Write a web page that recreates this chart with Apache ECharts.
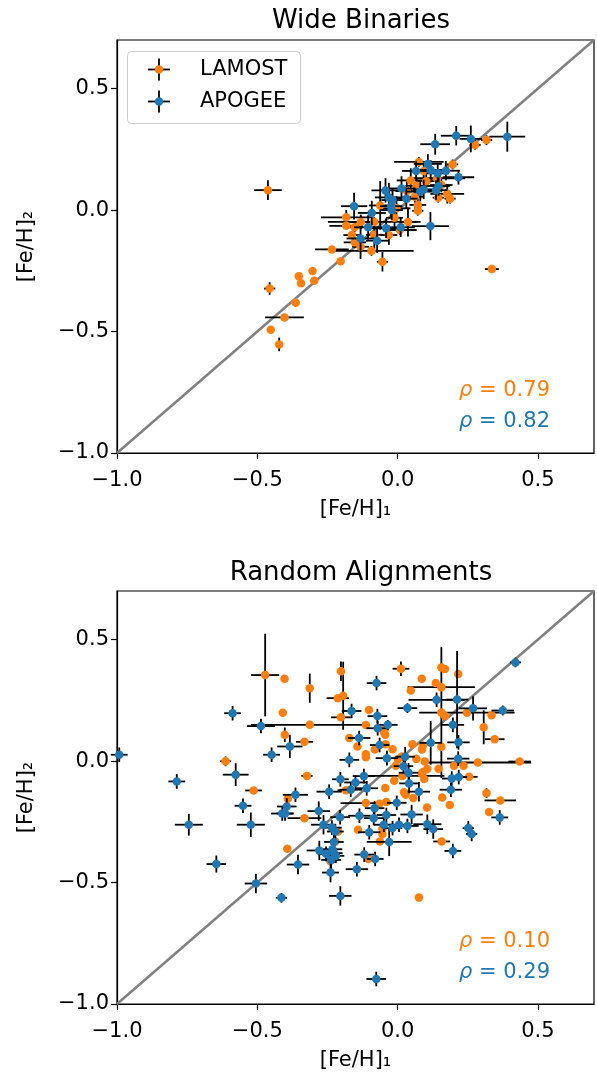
<!DOCTYPE html>
<html>
<head>
<meta charset="utf-8">
<script src="https://cdn.jsdelivr.net/npm/echarts@6/dist/echarts.min.js"></script>
<style>
  html, body { margin: 0; padding: 0; background: #fff; }
  #chart { width: 597px; height: 1072px; }
</style>
</head>
<body>
<div id="chart"></div>
<script>
// rows: [Fe/H]_1, [Fe/H]_2, err_1, err_2
const wideLamost = [
  [-0.462, 0.082, 0.049, 0.041], [-0.456, -0.323, 0.02, 0.026], [-0.403, -0.442, 0.069, 0.008],
  [-0.452, -0.493, 0.008, 0.008], [-0.422, -0.553, 0.008, 0.028], [-0.363, -0.382, 0.008, 0.008],
  [-0.352, -0.272, 0.008, 0.008], [-0.344, -0.301, 0.008, 0.008], [-0.303, -0.251, 0.008, 0.008],
  [-0.297, -0.291, 0.008, 0.008], [-0.234, -0.162, 0.06, 0.01], [-0.203, -0.211, 0.01, 0.01],
  [-0.183, -0.030, 0.09, 0.03], [-0.183, -0.065, 0.06, 0.01], [-0.163, -0.103, 0.03, 0.01],
  [-0.131, -0.049, 0.04, 0.03], [-0.153, -0.071, 0.03, 0.02], [-0.083, -0.049, 0.165, 0.02],
  [-0.083, -0.102, 0.03, 0.06], [-0.031, -0.103, 0.03, 0.04], [0.008, -0.082, 0.06, 0.02],
  [-0.152, -0.133, 0.04, 0.02], [-0.132, -0.151, 0.03, 0.05], [-0.093, -0.168, 0.15, 0.02],
  [-0.054, -0.213, 0.02, 0.04], [-0.062, 0.019, 0.04, 0.1], [-0.004, 0.007, 0.05, 0.05],
  [-0.011, -0.032, 0.03, 0.04], [0.037, -0.049, 0.03, 0.06], [0.033, 0.078, 0.04, 0.04],
  [0.062, 0.055, 0.03, 0.05], [0.072, 0.021, 0.03, 0.03], [0.072, -0.003, 0.02, 0.02],
  [0.068, 0.100, 0.04, 0.03], [0.047, 0.122, 0.05, 0.05], [0.102, 0.119, 0.03, 0.03],
  [0.093, 0.161, 0.03, 0.03], [0.076, 0.198, 0.088, 0.02], [0.141, 0.131, 0.1, 0.03],
  [0.156, 0.103, 0.04, 0.03], [0.145, 0.051, 0.02, 0.02], [0.177, 0.067, 0.06, 0.04],
  [0.187, 0.047, 0.02, 0.02], [0.196, 0.188, 0.02, 0.02], [0.276, 0.268, 0.02, 0.02],
  [0.317, 0.288, 0.02, 0.02], [0.336, -0.243, 0.025, 0.005]
];
const wideApogee = [
  [0.209, 0.306, 0.055, 0.04], [0.261, 0.293, 0.04, 0.055], [0.391, 0.302, 0.064, 0.062],
  [0.134, 0.271, 0.053, 0.043], [0.108, 0.190, 0.05, 0.04], [0.066, 0.161, 0.05, 0.04],
  [0.118, 0.165, 0.04, 0.04], [0.143, 0.151, 0.04, 0.04], [0.172, 0.162, 0.05, 0.04],
  [0.217, 0.135, 0.056, 0.03], [0.014, 0.089, 0.05, 0.05], [-0.043, 0.081, 0.05, 0.05],
  [0.081, 0.076, 0.05, 0.04], [0.093, 0.085, 0.04, 0.04], [0.137, 0.082, 0.04, 0.04],
  [0.146, 0.099, 0.04, 0.04], [-0.031, 0.052, 0.05, 0.06], [-0.018, 0.041, 0.04, 0.05],
  [0.031, 0.047, 0.04, 0.04], [-0.023, 0.016, 0.04, 0.05], [-0.021, 0.000, 0.04, 0.04],
  [-0.155, 0.016, 0.047, 0.055], [-0.092, -0.012, 0.05, 0.05], [-0.105, -0.071, 0.05, 0.05],
  [-0.041, -0.075, 0.05, 0.04], [0.011, -0.071, 0.05, 0.04], [0.117, -0.066, 0.066, 0.058],
  [-0.132, -0.117, 0.05, 0.05], [-0.073, -0.126, 0.04, 0.05]
];
const randomLamost = [
  [-0.472, 0.354, 0.05, 0.17], [-0.403, 0.339, 0.01, 0.01], [-0.313, 0.300, 0.01, 0.06],
  [-0.409, 0.199, 0.01, 0.01], [-0.313, 0.149, 0.21, 0.01], [-0.202, 0.370, 0.01, 0.04],
  [-0.194, 0.269, 0.01, 0.14], [-0.213, 0.259, 0.04, 0.01], [-0.202, 0.180, 0.035, 0.01],
  [-0.402, 0.108, 0.01, 0.03], [-0.332, 0.079, 0.03, 0.01], [-0.613, -0.001, 0.02, 0.02],
  [-0.323, -0.061, 0.02, 0.01], [-0.513, -0.121, 0.03, 0.01], [-0.184, -0.120, 0.03, 0.01],
  [0.012, 0.380, 0.03, 0.03], [0.156, 0.385, 0.01, 0.01], [0.169, 0.379, 0.01, 0.01],
  [0.216, 0.358, 0.01, 0.01], [0.086, 0.339, 0.01, 0.01], [0.047, 0.290, 0.01, 0.01],
  [0.136, 0.321, 0.01, 0.01], [0.156, 0.304, 0.12, 0.01], [-0.102, 0.210, 0.01, 0.01],
  [0.247, 0.199, 0.17, 0.01], [0.335, 0.189, 0.01, 0.01], [0.156, 0.200, 0.01, 0.27],
  [0.169, 0.185, 0.01, 0.01], [0.307, 0.139, 0.01, 0.07], [-0.113, 0.148, 0.01, 0.01],
  [-0.045, 0.133, 0.01, 0.01], [-0.044, 0.108, 0.01, 0.01], [-0.048, 0.118, 0.01, 0.01],
  [-0.172, 0.095, 0.01, 0.01], [0.346, 0.090, 0.035, 0.01], [0.053, 0.069, 0.01, 0.01],
  [0.156, 0.059, 0.01, 0.01], [0.090, 0.064, 0.01, 0.01], [-0.143, 0.060, 0.01, 0.01],
  [-0.043, 0.069, 0.01, 0.01], [-0.081, 0.048, 0.01, 0.01], [-0.018, 0.049, 0.01, 0.01],
  [0.087, 0.048, 0.01, 0.01], [-0.113, 0.028, 0.01, 0.01], [-0.113, 0.016, 0.01, 0.01],
  [0.002, 0.007, 0.01, 0.01], [0.015, 0.019, 0.01, 0.01], [0.067, 0.009, 0.01, 0.01],
  [0.097, -0.002, 0.01, 0.01], [0.286, -0.006, 0.19, 0.01], [0.435, -0.002, 0.04, 0.01],
  [0.201, -0.019, 0.01, 0.01], [0.235, -0.019, 0.01, 0.01], [-0.006, -0.019, 0.01, 0.01],
  [0.090, -0.045, 0.01, 0.01], [0.086, -0.052, 0.01, 0.01], [0.106, -0.033, 0.01, 0.01],
  [0.146, -0.032, 0.01, 0.01], [0.255, -0.065, 0.03, 0.01], [-0.012, -0.081, 0.01, 0.01],
  [0.017, -0.061, 0.15, 0.01], [0.095, -0.074, 0.01, 0.01], [-0.044, -0.111, 0.01, 0.01],
  [0.317, -0.132, 0.01, 0.02], [0.366, -0.162, 0.056, 0.01], [0.023, -0.128, 0.01, 0.01],
  [0.029, -0.139, 0.01, 0.01], [0.326, -0.210, 0.01, 0.01], [0.159, -0.150, 0.01, 0.01],
  [0.186, -0.181, 0.01, 0.01], [0.105, -0.191, 0.01, 0.01], [0.056, -0.152, 0.01, 0.01],
  [-0.040, -0.169, 0.01, 0.01], [-0.065, -0.176, 0.01, 0.01], [-0.113, -0.173, 0.09, 0.01],
  [-0.332, -0.235, 0.06, 0.01], [-0.212, -0.290, 0.01, 0.01], [-0.141, -0.283, 0.01, 0.01],
  [-0.054, -0.300, 0.01, 0.01], [-0.054, -0.280, 0.01, 0.01], [0.157, -0.331, 0.03, 0.01],
  [-0.063, -0.331, 0.01, 0.01], [-0.240, -0.411, 0.01, 0.01], [-0.104, -0.403, 0.01, 0.01],
  [0.076, -0.562, 0.01, 0.01], [-0.391, -0.155, 0.01, 0.01], [-0.393, -0.361, 0.01, 0.01],
  [-0.222, -0.331, 0.01, 0.01]
];
const randomApogee = [
  [-0.992, 0.026, 0.03, 0.03], [-0.588, 0.197, 0.03, 0.03], [-0.487, 0.144, 0.05, 0.03],
  [-0.384, 0.060, 0.045, 0.048], [-0.449, 0.026, 0.03, 0.03], [-0.577, -0.056, 0.046, 0.047],
  [-0.787, -0.084, 0.03, 0.03], [-0.204, -0.075, 0.03, 0.03], [-0.364, -0.139, 0.045, 0.03],
  [-0.244, -0.126, 0.045, 0.03], [-0.172, 0.005, 0.035, 0.03], [0.420, 0.406, 0.02, 0.02],
  [-0.075, 0.321, 0.035, 0.03], [0.139, 0.252, 0.1, 0.03], [0.212, 0.253, 0.04, 0.2],
  [0.035, 0.218, 0.035, 0.02], [-0.164, 0.206, 0.035, 0.03], [0.269, 0.217, 0.05, 0.05],
  [0.375, 0.208, 0.04, 0.02], [-0.072, 0.185, 0.035, 0.03], [0.197, 0.149, 0.04, 0.03],
  [-0.035, 0.149, 0.035, 0.02], [-0.071, 0.135, 0.04, 0.03], [-0.137, 0.095, 0.04, 0.03],
  [0.118, 0.075, 0.04, 0.09], [0.217, 0.077, 0.04, 0.03], [-0.064, 0.066, 0.035, 0.03],
  [-0.038, 0.012, 0.04, 0.03], [0.027, 0.018, 0.035, 0.04], [0.216, 0.010, 0.04, 0.03],
  [0.021, -0.021, 0.035, 0.03], [0.039, -0.048, 0.035, 0.04], [0.193, -0.072, 0.035, 0.03],
  [0.218, -0.066, 0.03, 0.03], [-0.120, -0.062, 0.04, 0.03], [-0.150, -0.088, 0.04, 0.03],
  [0.041, -0.092, 0.035, 0.04], [-0.167, -0.118, 0.04, 0.03], [-0.110, -0.112, 0.04, 0.03],
  [0.076, -0.126, 0.04, 0.04], [0.190, -0.118, 0.04, 0.03], [0.364, -0.232, 0.03, 0.03],
  [-0.003, -0.172, 0.035, 0.03], [-0.082, -0.194, 0.035, 0.03], [0.050, -0.220, 0.04, 0.04],
  [-0.040, -0.222, 0.035, 0.03], [-0.085, -0.235, 0.035, 0.03], [-0.136, -0.225, 0.04, 0.03],
  [-0.205, -0.231, 0.035, 0.03], [-0.281, -0.206, 0.04, 0.04], [-0.264, -0.262, 0.045, 0.04],
  [-0.234, -0.274, 0.035, 0.03], [-0.222, -0.290, 0.03, 0.03], [-0.101, -0.293, 0.04, 0.03],
  [-0.049, -0.262, 0.035, 0.03], [-0.018, -0.276, 0.035, 0.03], [0.005, -0.262, 0.035, 0.03],
  [0.035, -0.267, 0.04, 0.03], [0.106, -0.260, 0.05, 0.04], [0.127, -0.280, 0.035, 0.04],
  [0.252, -0.276, 0.02, 0.03], [0.264, -0.300, 0.02, 0.03], [0.197, -0.370, 0.03, 0.03],
  [-0.030, -0.333, 0.08, 0.058], [-0.227, -0.333, 0.035, 0.03], [-0.279, -0.368, 0.045, 0.04],
  [-0.232, -0.363, 0.035, 0.04], [-0.226, -0.379, 0.03, 0.04], [-0.220, -0.390, 0.03, 0.03],
  [-0.255, -0.382, 0.03, 0.03], [-0.237, -0.407, 0.035, 0.04], [-0.119, -0.385, 0.035, 0.03],
  [-0.080, -0.403, 0.03, 0.03], [-0.239, -0.459, 0.03, 0.04], [-0.145, -0.445, 0.04, 0.03],
  [-0.204, -0.555, 0.04, 0.04], [-0.076, -0.897, 0.035, 0.03], [-0.551, -0.184, 0.03, 0.03],
  [-0.395, -0.187, 0.035, 0.035], [-0.411, -0.216, 0.04, 0.03], [-0.401, -0.216, 0.03, 0.03],
  [-0.744, -0.262, 0.05, 0.045], [-0.523, -0.262, 0.05, 0.05], [-0.646, -0.424, 0.035, 0.035],
  [-0.505, -0.504, 0.04, 0.04], [-0.355, -0.426, 0.04, 0.04], [-0.414, -0.563, 0.02, 0.02]
];
const tickValues = [-1, -0.5, 0, 0.5];
const axisRange = [-1, 0.7];
const panelTitles = ['Wide Binaries', 'Random Alignments'];
const rhoWide = [0.79, 0.82];     // LAMOST, APOGEE
const rhoRandom = [0.10, 0.29];

const ORANGE = '#ff7f0e';
const BLUE = '#1f77b4';
const FONT = 'DejaVu Sans';

const chart = echarts.init(document.getElementById('chart'), null, { renderer: 'canvas' });

const fmt = v => v.toFixed(1).replace('-', '\u2212');

function makeAxis(idx, isX) {
  return {
    type: 'value',
    gridIndex: idx,
    min: axisRange[0],
    max: axisRange[1],
    interval: 0.5,
    name: isX ? '[Fe/H]\u2081' : '[Fe/H]\u2082',
    nameLocation: 'middle',
    nameGap: isX ? 46 : 80,
    nameTextStyle: { color: '#000', fontSize: 21, fontFamily: FONT },
    splitLine: { show: false },
    axisLine: { show: true, onZero: false, lineStyle: { color: '#000', width: 1.2 } },
    axisTick: { show: true, inside: false, length: 6, customValues: tickValues,
      lineStyle: { color: '#000', width: 1.2 } },
    axisLabel: { show: true, margin: isX ? 17 : 8, customValues: tickValues, formatter: fmt,
      color: '#000', fontSize: 21, fontFamily: FONT }
  };
}

// black cross-shaped error bars, drawn like matplotlib errorbar (no caps)
function renderBars(params, api) {
  const x = api.value(0), y = api.value(1), ex = api.value(2), ey = api.value(3);
  const l = api.coord([x - ex, y]), r = api.coord([x + ex, y]);
  const b = api.coord([x, y - ey]), t = api.coord([x, y + ey]);
  const st = { stroke: '#000', lineWidth: 1.8 };
  return {
    type: 'group',
    children: [
      { type: 'line', shape: { x1: l[0], y1: l[1], x2: r[0], y2: r[1] }, style: st },
      { type: 'line', shape: { x1: b[0], y1: b[1], x2: t[0], y2: t[1] }, style: st }
    ]
  };
}

function panelSeries(idx, lamost, apogee) {
  return [
    { type: 'line', xAxisIndex: idx, yAxisIndex: idx, data: [[axisRange[0], axisRange[0]], [axisRange[1], axisRange[1]]],
      symbol: 'none', lineStyle: { color: '#808080', width: 2.5 }, z: 1, silent: true },
    { type: 'custom', xAxisIndex: idx, yAxisIndex: idx, data: lamost, renderItem: renderBars,
      encode: { x: 0, y: 1 }, z: 2, silent: true },
    { type: 'scatter', xAxisIndex: idx, yAxisIndex: idx, data: lamost.map(d => [d[0], d[1]]),
      symbolSize: 8.5, itemStyle: { color: ORANGE, opacity: 1 }, z: 3, silent: true },
    { type: 'custom', xAxisIndex: idx, yAxisIndex: idx, data: apogee, renderItem: renderBars,
      encode: { x: 0, y: 1 }, z: 4, silent: true },
    { type: 'scatter', xAxisIndex: idx, yAxisIndex: idx, data: apogee.map(d => [d[0], d[1]]),
      symbolSize: 8.5, itemStyle: { color: BLUE, opacity: 1 }, z: 5, silent: true }
  ];
}

function rhoText(val, color, top) {
  return {
    type: 'text', right: 47, top: top, z: 10,
    style: {
      text: '{i|\u03c1} = ' + val.toFixed(2),
      fill: color, font: '21px "DejaVu Sans"',
      rich: { i: { fontStyle: 'italic', fontSize: 21, fontFamily: FONT, fill: color } }
    }
  };
}

function legendEntry(y, color, label) {
  const st = { stroke: '#000', lineWidth: 1.8 };
  return [
    { type: 'line', z: 11, shape: { x1: 148, y1: y, x2: 170, y2: y }, style: st },
    { type: 'line', z: 11, shape: { x1: 159, y1: y - 11, x2: 159, y2: y + 11 }, style: st },
    { type: 'circle', z: 12, shape: { cx: 159, cy: y, r: 4.25 }, style: { fill: color } },
    { type: 'text', z: 12, x: 200, y: y, style: { text: label, fill: '#000', font: '21px "DejaVu Sans"', verticalAlign: 'middle' } }
  ];
}

chart.setOption({
  animation: false,
  backgroundColor: '#fff',
  title: panelTitles.map((t, i) => ({
    text: t, left: 356, top: i === 0 ? 3 : 555, textAlign: 'center',
    textStyle: { color: '#000', fontSize: 26, fontWeight: 'normal', fontFamily: FONT }
  })),
  grid: [
    { left: 117, top: 40, width: 477, height: 413, show: true, borderColor: '#000', borderWidth: 1.2 },
    { left: 117, top: 591, width: 477, height: 413, show: true, borderColor: '#000', borderWidth: 1.2 }
  ],
  xAxis: [makeAxis(0, true), makeAxis(1, true)],
  yAxis: [makeAxis(0, false), makeAxis(1, false)],
  series: [].concat(panelSeries(0, wideLamost, wideApogee), panelSeries(1, randomLamost, randomApogee)),
  graphic: [
    { type: 'rect', shape: { x: 127.5, y: 51.5, width: 173, height: 72, r: 4 }, z: 10,
      style: { fill: 'rgba(255,255,255,0.8)', stroke: '#cccccc', lineWidth: 1 } }
  ].concat(
    legendEntry(69.5, ORANGE, 'LAMOST'),
    legendEntry(101.5, BLUE, 'APOGEE'),
    [
      rhoText(rhoWide[0], ORANGE, 380),
      rhoText(rhoWide[1], BLUE, 411),
      rhoText(rhoRandom[0], ORANGE, 931),
      rhoText(rhoRandom[1], BLUE, 962)
    ]
  )
});
</script>
</body>
</html>
